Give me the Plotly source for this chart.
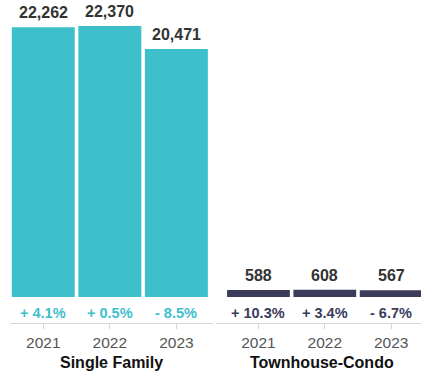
import plotly.graph_objects as go

# Closed sales by property type
years = ["2021", "2022", "2023"]
single_family = [22262, 22370, 20471]
single_family_pct = ["+ 4.1%", "+ 0.5%", "- 8.5%"]
townhouse_condo = [588, 608, 567]
townhouse_condo_pct = ["+ 10.3%", "+ 3.4%", "- 6.7%"]
groups = ["Single Family", "Townhouse-Condo"]

TEAL = "#3DC0CC"
NAVY = "#3B3C5C"
FONT = "Liberation Sans, Arial, Helvetica, sans-serif"

W, H = 421, 377
plot_bottom = 323          # pixel row of the category axis line
zero_px = 297              # pixel row of bar baselines
top_px = 26                # pixel row of the tallest bar's top
scale = (zero_px - top_px) / max(single_family)   # px per unit
y_min = -(plot_bottom - zero_px) / scale
y_max = zero_px / scale
pct_y = -(313 - zero_px) / scale
title_y = -(362 - plot_bottom) / plot_bottom       # paper coords below plot

idx = list(range(len(years)))

fig = go.Figure()
annotations = []
panels = [
    (single_family, single_family_pct, TEAL, "x", "y"),
    (townhouse_condo, townhouse_condo_pct, NAVY, "x2", "y2"),
]
for vals, pcts, color, xa, ya in panels:
    fig.add_trace(go.Bar(x=idx, y=vals, xaxis=xa, yaxis=ya,
                         marker=dict(color=color, line=dict(width=0)),
                         width=0.946, hoverinfo="skip", showlegend=False))
    for i, v, p in zip(idx, vals, pcts):
        annotations.append(dict(x=i, y=v, xref=xa, yref=ya, text=f"<b>{v:,}</b>",
                                showarrow=False, yanchor="bottom", yshift=4,
                                font=dict(family=FONT, size=16, color="#333333")))
        annotations.append(dict(x=i, y=pct_y, xref=xa, yref=ya, text=f"<b>{p}</b>",
                                showarrow=False, yanchor="middle",
                                font=dict(family=FONT, size=14.5, color=color)))

for name, cx in zip(groups, [111.5 / W, 322 / W]):
    annotations.append(dict(x=cx, y=title_y, xref="paper", yref="paper",
                            text=f"<b>{name}</b>", showarrow=False,
                            xanchor="center", yanchor="middle",
                            font=dict(family=FONT, size=16, color="#111111")))

axis_common = dict(
    showline=True, linecolor="#d6d6d6", linewidth=1,
    ticks="outside", ticklen=5, tickcolor="#d6d6d6",
    tickmode="array", tickvals=idx, ticktext=years,
    tickfont=dict(family=FONT, size=15.5, color="#555555"),
    showgrid=False, zeroline=False, fixedrange=True,
)
yaxis_common = dict(range=[y_min, y_max], visible=False, showgrid=False,
                    zeroline=False, fixedrange=True)

fig.update_layout(
    width=W, height=H,
    margin=dict(l=0, r=0, t=0, b=H - plot_bottom, pad=0),
    xaxis=dict(domain=[10 / W, 213 / W], range=[-0.5, 2.55],
               anchor="y", **axis_common),
    xaxis2=dict(domain=[216 / W, 1.0], range=[-0.64, 2.45],
                anchor="y2", **axis_common),
    yaxis=dict(anchor="x", **yaxis_common),
    yaxis2=dict(anchor="x2", **yaxis_common),
    annotations=annotations,
    plot_bgcolor="white", paper_bgcolor="white",
    font=dict(family=FONT),
)

fig.write_html("out.html")
